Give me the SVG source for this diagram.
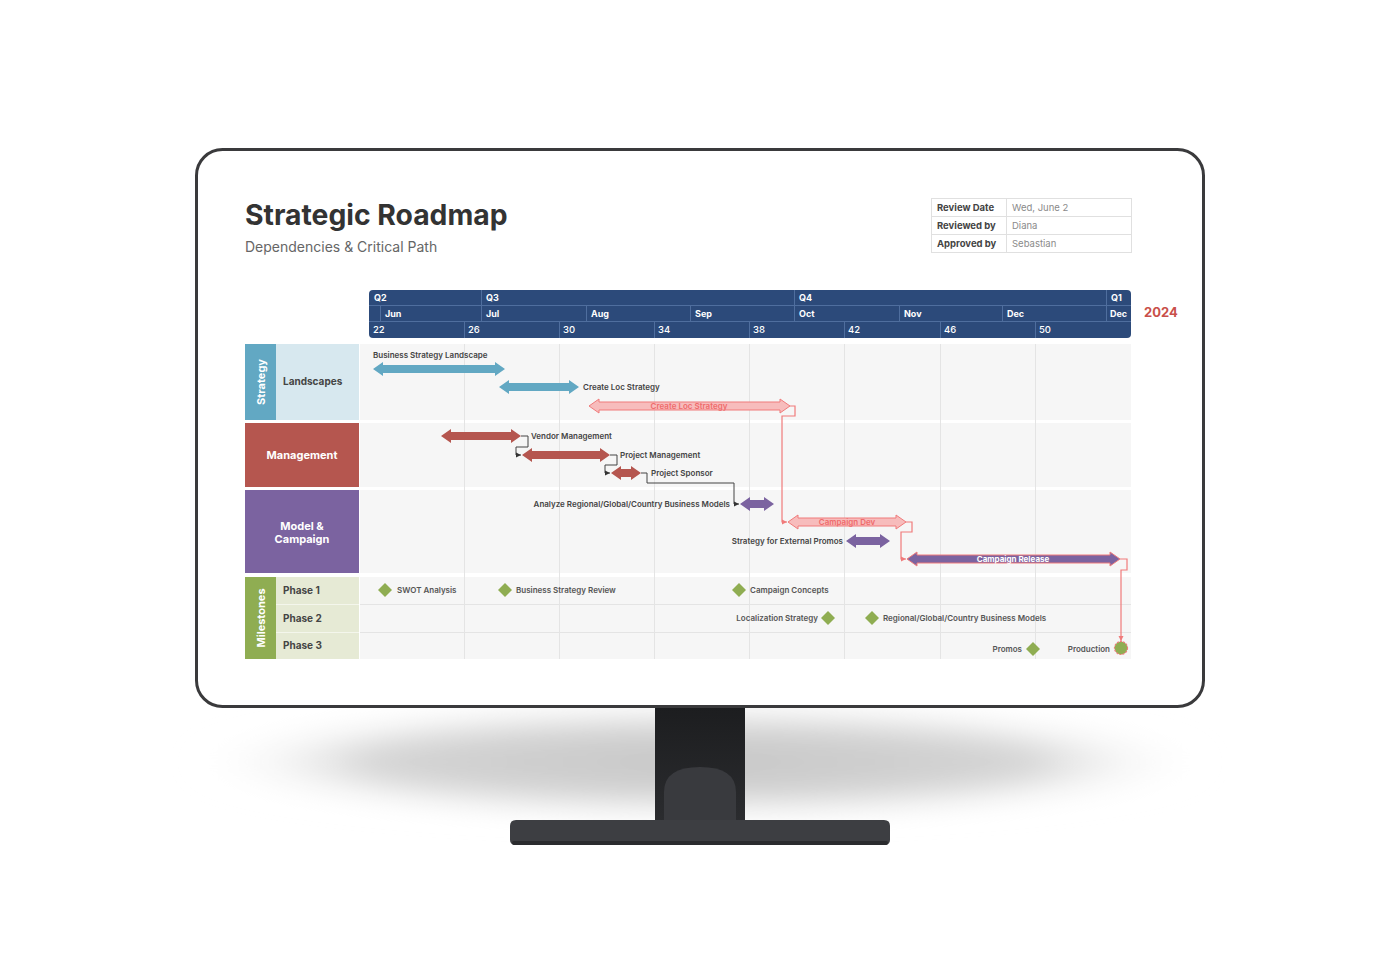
<svg xmlns="http://www.w3.org/2000/svg" width="1400" height="980" viewBox="0 0 1400 980">
<defs>
<style>
text{font-family:Inter,"Liberation Sans",sans-serif}
.hd{font-size:9px;font-weight:700;fill:#fff}
.wk{font-size:9.5px;font-weight:500;fill:#fff}
.bl{font-size:8px;font-weight:600;fill:#444}
.ml{font-size:8px;font-weight:600;fill:#555}
.rl{font-size:10px;font-weight:700;fill:#444}
.wl{font-size:11px;font-weight:700;fill:#fff}
.tl{font-size:9.5px;font-weight:700;fill:#444}
.tv{font-size:9.5px;fill:#8a8a8a}
.hl{stroke:#4f6e9e;stroke-width:1}
.grid{stroke:#e4e4e4;stroke-width:1}
.blue{fill:#62a8c3}
.red{fill:#b5564f}
.pur{fill:#7b63a0}
.crit{fill:#f7bcbc;stroke:#f07b7b;stroke-width:1}
.pcrit{fill:#7b63a0;stroke:#f07b7b;stroke-width:1}
.dia{fill:#8fad52}
.cb{fill:none;stroke:#444;stroke-width:1}
.cp{fill:none;stroke:#f07b7b;stroke-width:1.2}
</style>
<marker id="ab" markerWidth="6" markerHeight="6" refX="5" refY="3" orient="auto" markerUnits="userSpaceOnUse"><path d="M0,0.5 L5,3 L0,5.5 Z" fill="#333"/></marker>
<marker id="ap" markerWidth="6" markerHeight="6" refX="5" refY="3" orient="auto" markerUnits="userSpaceOnUse"><path d="M0,0.5 L5,3 L0,5.5 Z" fill="#f07b7b"/></marker>
<radialGradient id="shadow" cx="0.5" cy="0.5" r="0.5">
<stop offset="0" stop-color="#c6c6c6"/>
<stop offset="0.65" stop-color="#d4d4d4"/>
<stop offset="1" stop-color="#ffffff" stop-opacity="0"/>
</radialGradient>
<linearGradient id="neck" x1="0" y1="0" x2="0" y2="1">
<stop offset="0" stop-color="#1c1d1f"/>
<stop offset="1" stop-color="#2c2d30"/>
</linearGradient>
<filter id="blur" x="-20%" y="-60%" width="140%" height="220%"><feGaussianBlur stdDeviation="14"/></filter>
</defs>
<rect width="1400" height="980" fill="#fff"/>

<!-- monitor -->
<g id="monitor">
<ellipse cx="700" cy="762" rx="515" ry="56" fill="url(#shadow)" filter="url(#blur)"/>
<rect x="655" y="706" width="90" height="124" fill="url(#neck)"/>
<path d="M664,830 L664,792 Q664,767 700,767 Q736,767 736,792 L736,830 Z" fill="#393a3e"/>
<path d="M516,820 L884,820 Q890,820 890,826 L890,840 Q890,845 884,845 L516,845 Q510,845 510,840 L510,826 Q510,820 516,820 Z" fill="#3d3e42"/>
<rect x="512" y="841" width="376" height="4" rx="2" fill="#2a2b2e"/>
<rect x="196.5" y="149.5" width="1007" height="557" rx="26" fill="#fff" stroke="#3a3a3c" stroke-width="3"/>
</g>

<!-- title -->
<g id="title">
<text x="245" y="225" font-size="28.3" font-weight="700" fill="#333">Strategic Roadmap</text>
<text x="245" y="252" font-size="14" fill="#666">Dependencies &amp; Critical Path</text>
</g>

<!-- review table -->
<g id="review-table">
<rect x="931.5" y="198.5" width="200" height="54" fill="#fff" stroke="#e0e0e0"/>
<line x1="931.5" y1="216.5" x2="1131.5" y2="216.5" stroke="#e0e0e0"/>
<line x1="931.5" y1="234.5" x2="1131.5" y2="234.5" stroke="#e0e0e0"/>
<line x1="1006.5" y1="198.5" x2="1006.5" y2="252.5" stroke="#e0e0e0"/>
<text class="tl" x="937" y="211">Review Date</text>
<text class="tl" x="937" y="229">Reviewed by</text>
<text class="tl" x="937" y="247">Approved by</text>
<text class="tv" x="1012" y="211">Wed, June 2</text>
<text class="tv" x="1012" y="229">Diana</text>
<text class="tv" x="1012" y="247">Sebastian</text>
</g>

<!-- timeline header -->
<g id="timeline-header">
<rect x="369" y="290" width="762" height="48" rx="4" fill="#2c4a7a"/>
<line class="hl" x1="369" y1="305.5" x2="1131" y2="305.5"/>
<line class="hl" x1="369" y1="321.5" x2="1131" y2="321.5"/>
<line class="hl" x1="481.5" y1="290" x2="481.5" y2="321"/>
<line class="hl" x1="794.5" y1="290" x2="794.5" y2="321"/>
<line class="hl" x1="1106.5" y1="290" x2="1106.5" y2="321"/>
<line class="hl" x1="380.5" y1="305" x2="380.5" y2="321"/>
<line class="hl" x1="586.5" y1="305" x2="586.5" y2="321"/>
<line class="hl" x1="690.5" y1="305" x2="690.5" y2="321"/>
<line class="hl" x1="899.5" y1="305" x2="899.5" y2="321"/>
<line class="hl" x1="1002.5" y1="305" x2="1002.5" y2="321"/>
<line class="hl" x1="464.5" y1="321" x2="464.5" y2="338"/>
<line class="hl" x1="559.5" y1="321" x2="559.5" y2="338"/>
<line class="hl" x1="654.5" y1="321" x2="654.5" y2="338"/>
<line class="hl" x1="749.5" y1="321" x2="749.5" y2="338"/>
<line class="hl" x1="844.5" y1="321" x2="844.5" y2="338"/>
<line class="hl" x1="940.5" y1="321" x2="940.5" y2="338"/>
<line class="hl" x1="1035.5" y1="321" x2="1035.5" y2="338"/>
<text class="hd" x="374" y="301">Q2</text>
<text class="hd" x="486" y="301">Q3</text>
<text class="hd" x="799" y="301">Q4</text>
<text class="hd" x="1111" y="301">Q1</text>
<text class="hd" x="385" y="317">Jun</text>
<text class="hd" x="486" y="317">Jul</text>
<text class="hd" x="591" y="317">Aug</text>
<text class="hd" x="695" y="317">Sep</text>
<text class="hd" x="799" y="317">Oct</text>
<text class="hd" x="904" y="317">Nov</text>
<text class="hd" x="1007" y="317">Dec</text>
<text class="hd" x="1110" y="317">Dec</text>
<text class="wk" x="373" y="333">22</text>
<text class="wk" x="468" y="333">26</text>
<text class="wk" x="563" y="333">30</text>
<text class="wk" x="658" y="333">34</text>
<text class="wk" x="753" y="333">38</text>
<text class="wk" x="848" y="333">42</text>
<text class="wk" x="944" y="333">46</text>
<text class="wk" x="1039" y="333">50</text>
<text x="1144" y="317" font-size="13" font-weight="700" fill="#c9504a">2024</text>
</g>

<!-- chart background -->
<g id="chart-bg">
<rect x="360" y="344" width="771" height="76" fill="#f6f6f6"/>
<rect x="360" y="423" width="771" height="64" fill="#f6f6f6"/>
<rect x="360" y="490" width="771" height="83" fill="#f6f6f6"/>
<rect x="360" y="577" width="771" height="82" fill="#f6f6f6"/>
<line class="grid" x1="360" y1="604.5" x2="1131" y2="604.5"/>
<line class="grid" x1="360" y1="632.5" x2="1131" y2="632.5"/>
<g class="grid">
<line x1="464.5" y1="344" x2="464.5" y2="659"/>
<line x1="559.5" y1="344" x2="559.5" y2="659"/>
<line x1="654.5" y1="344" x2="654.5" y2="659"/>
<line x1="749.5" y1="344" x2="749.5" y2="659"/>
<line x1="844.5" y1="344" x2="844.5" y2="659"/>
<line x1="940.5" y1="344" x2="940.5" y2="659"/>
<line x1="1035.5" y1="344" x2="1035.5" y2="659"/>
</g>
</g>

<!-- row labels -->
<g id="row-strategy">
<rect x="245" y="344" width="31" height="76" fill="#62a8c3"/>
<rect x="276" y="344" width="83" height="76" fill="#d7e8ef"/>
<text class="wl" transform="translate(265,382) rotate(-90)" text-anchor="middle">Strategy</text>
<text class="rl" x="283" y="385">Landscapes</text>
</g>
<g id="row-management">
<rect x="245" y="423" width="114" height="64" fill="#b5564f"/>
<text class="wl" x="302" y="459" text-anchor="middle">Management</text>
</g>
<g id="row-model">
<rect x="245" y="490" width="114" height="83" fill="#7b63a0"/>
<text class="wl" x="302" y="530" text-anchor="middle">Model &amp;</text>
<text class="wl" x="302" y="543" text-anchor="middle">Campaign</text>
</g>
<g id="row-milestones">
<rect x="245" y="577" width="31" height="82" fill="#8fad52"/>
<rect x="276" y="577" width="83" height="82" fill="#e6ead5"/>
<line x1="276" y1="604.5" x2="359" y2="604.5" stroke="#f4f6ec"/>
<line x1="276" y1="632.5" x2="359" y2="632.5" stroke="#f4f6ec"/>
<text class="wl" transform="translate(265,618) rotate(-90)" text-anchor="middle">Milestones</text>
<text class="rl" x="283" y="594">Phase 1</text>
<text class="rl" x="283" y="622">Phase 2</text>
<text class="rl" x="283" y="649">Phase 3</text>
</g>

<!-- connectors -->
<g id="connectors">
<path class="cb" d="M521,436 H528 V447 H516 V455 H521" marker-end="url(#ab)"/>
<path class="cb" d="M610,455 H617 V465 H605 V473 H610" marker-end="url(#ab)"/>
<path class="cb" d="M641,473 H647 V483 H734 V504 H739" marker-end="url(#ab)"/>
<path class="cp" d="M790,406 H795 V416 H782 V522 H787" marker-end="url(#ap)"/>
<path class="cp" d="M906,522 H912 V532 H901 V559 H906" marker-end="url(#ap)"/>
<path class="cp" d="M1120,559 H1127 V570 H1121 V641" marker-end="url(#ap)"/>
</g>

<!-- bars -->
<g id="bar-business-strategy-landscape">
<path class="blue" d="M373,369 L383,362 L383,365 L495,365 L495,362 L505,369 L495,376 L495,373 L383,373 L383,376 Z"/>
<text class="bl" x="373" y="358">Business Strategy Landscape</text>
</g>
<g id="bar-create-loc-strategy-1">
<path class="blue" d="M499,387 L509,380 L509,383 L569,383 L569,380 L579,387 L569,394 L569,391 L509,391 L509,394 Z"/>
<text class="bl" x="583" y="390">Create Loc Strategy</text>
</g>
<g id="bar-create-loc-strategy-2">
<path class="crit" d="M589,406 L599,399 L599,402 L780,402 L780,399 L790,406 L780,413 L780,410 L599,410 L599,413 Z"/>
<text x="689" y="409" font-size="8" font-weight="600" fill="#ef6b6b" text-anchor="middle">Create Loc Strategy</text>
</g>
<g id="bar-vendor-management">
<path class="red" d="M441,436 L451,429 L451,432 L511,432 L511,429 L521,436 L511,443 L511,440 L451,440 L451,443 Z"/>
<text class="bl" x="531" y="439">Vendor Management</text>
</g>
<g id="bar-project-management">
<path class="red" d="M522,455 L532,448 L532,451 L600,451 L600,448 L610,455 L600,462 L600,459 L532,459 L532,462 Z"/>
<text class="bl" x="620" y="458">Project Management</text>
</g>
<g id="bar-project-sponsor">
<path class="red" d="M611,473 L621,466 L621,469 L631,469 L631,466 L641,473 L631,480 L631,477 L621,477 L621,480 Z"/>
<text class="bl" x="651" y="476">Project Sponsor</text>
</g>
<g id="bar-analyze">
<path class="pur" d="M740,504 L750,497 L750,500 L764,500 L764,497 L774,504 L764,511 L764,508 L750,508 L750,511 Z"/>
<text class="bl" x="730" y="507" text-anchor="end">Analyze Regional/Global/Country Business Models</text>
</g>
<g id="bar-campaign-dev">
<path class="crit" d="M788,522 L798,515 L798,518 L896,518 L896,515 L906,522 L896,529 L896,526 L798,526 L798,529 Z"/>
<text x="847" y="525" font-size="8" font-weight="600" fill="#ef6b6b" text-anchor="middle">Campaign Dev</text>
</g>
<g id="bar-external-promos">
<path class="pur" d="M846,541 L856,534 L856,537 L880,537 L880,534 L890,541 L880,548 L880,545 L856,545 L856,548 Z"/>
<text class="bl" x="843" y="544" text-anchor="end">Strategy for External Promos</text>
</g>
<g id="bar-campaign-release">
<path class="pcrit" d="M907,559 L917,552 L917,555 L1110,555 L1110,552 L1120,559 L1110,566 L1110,563 L917,563 L917,566 Z"/>
<text x="1013" y="562" font-size="8" font-weight="700" fill="#fff" text-anchor="middle">Campaign Release</text>
</g>

<!-- milestones -->
<g id="ms-swot"><path class="dia" d="M385,583 L392,590 L385,597 L378,590 Z"/><text class="ml" x="397" y="593">SWOT Analysis</text></g>
<g id="ms-bsr"><path class="dia" d="M505,583 L512,590 L505,597 L498,590 Z"/><text class="ml" x="516" y="593">Business Strategy Review</text></g>
<g id="ms-cc"><path class="dia" d="M739,583 L746,590 L739,597 L732,590 Z"/><text class="ml" x="750" y="593">Campaign Concepts</text></g>
<g id="ms-loc"><path class="dia" d="M828,611 L835,618 L828,625 L821,618 Z"/><text class="ml" x="818" y="621" text-anchor="end">Localization Strategy</text></g>
<g id="ms-rgc"><path class="dia" d="M872,611 L879,618 L872,625 L865,618 Z"/><text class="ml" x="883" y="621">Regional/Global/Country Business Models</text></g>
<g id="ms-promos"><path class="dia" d="M1033,642 L1040,649 L1033,656 L1026,649 Z"/><text class="ml" x="1022" y="652" text-anchor="end">Promos</text></g>
<g id="ms-production"><circle cx="1121" cy="648" r="6.5" fill="#8fad52" stroke="#f07b7b" stroke-width="1.2" stroke-dasharray="2 1.2"/><text class="ml" x="1110" y="652" text-anchor="end">Production</text></g>
</svg>
